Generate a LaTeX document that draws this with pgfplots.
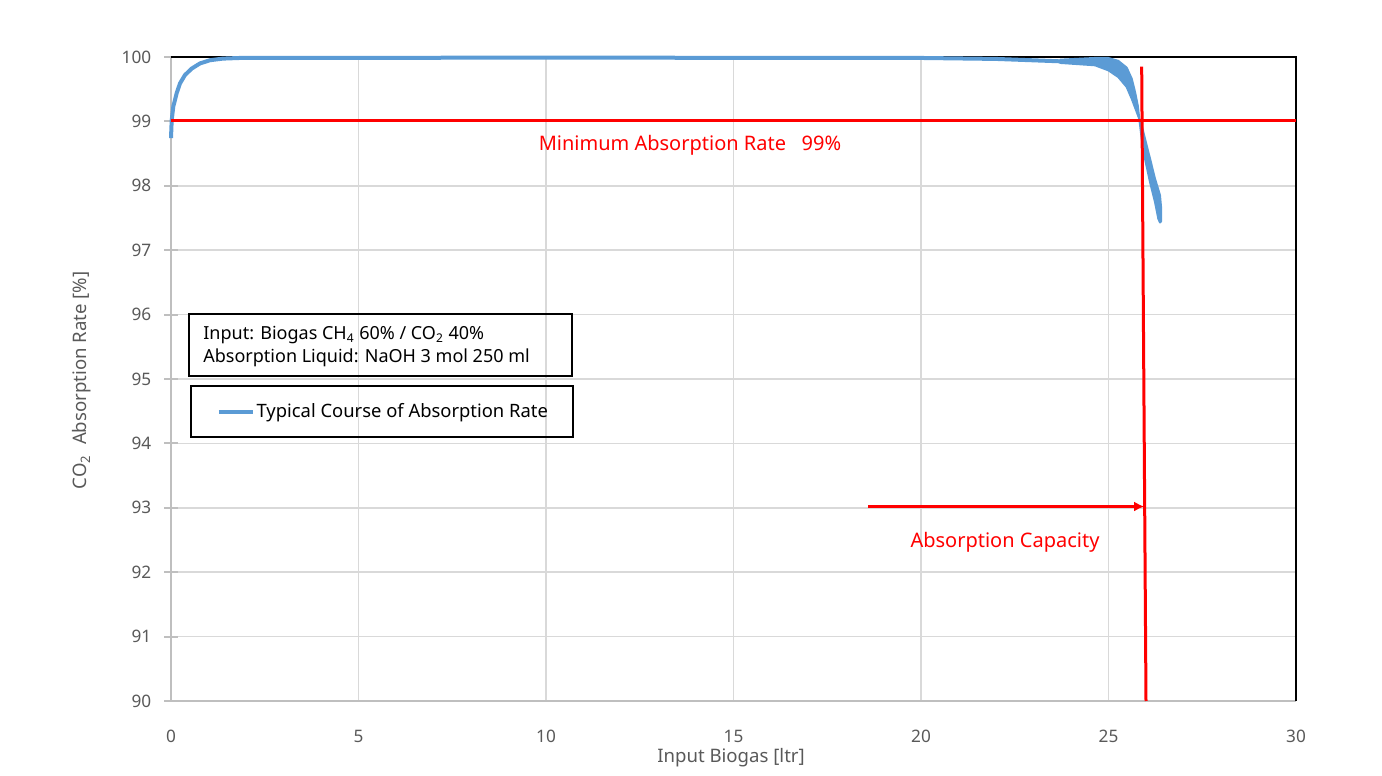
\documentclass[border=0pt]{standalone}
\usepackage{fontspec}
\setmainfont{Noto Sans}
\usepackage{pgfplots}
\pgfplotsset{compat=1.18}
\usetikzlibrary{arrows.meta}
\definecolor{excelblue}{RGB}{91,155,213}
\definecolor{tickgray}{RGB}{89,89,89}
\definecolor{gridgray}{RGB}{217,217,217}
\definecolor{axisgray}{RGB}{191,191,191}

\begin{document}
\begin{tikzpicture}
\path[use as bounding box] (-85.5pt,-37.5pt) rectangle (605.5pt,350.5pt);
\begin{axis}[
    at={(0pt,0pt)}, anchor=south west,
    scale only axis, width=562.5pt, height=322pt,
    xmin=0, xmax=30, ymin=90, ymax=100,
    xtick={0,5,...,30}, ytick={90,91,...,100},
    clip=false,
    grid=major,
    major grid style={gridgray, line width=0.75pt},
    axis x line*=bottom, axis y line*=left,
    axis line style={axisgray, line width=1pt, -},
    every outer x axis line/.append style={-},
    every outer y axis line/.append style={-},
    xtick style={draw=none},
    ytick style={axisgray, line width=1pt},
    tick align=center, major tick length=6.7pt,
    tick label style={font=\fontsize{8.6}{10}\selectfont, text=tickgray},
    /pgf/number format/assume math mode=true,
    yticklabel style={anchor=east, xshift=-3pt},
    xticklabel style={anchor=center, yshift=-14.5pt},
    label style={font=\fontsize{9.3}{11}\selectfont, text=tickgray},
    xlabel={Input Biogas [ltr]},
    xlabel style={at={(axis description cs:0.4978,-0.0886)}, anchor=center},
    ylabel={CO\textsubscript{2}\ \ Absorption Rate [\%]},
    ylabel style={at={(axis description cs:-0.0791,0.498)}, anchor=center, rotate=0},
    legend style={draw=none, fill=none, at={(axis description cs:0.0405,0.4492)}, anchor=west,
        inner xsep=0pt, font=\fontsize{9.2}{11}\selectfont, nodes={inner xsep=0.8pt}},
    legend image code/.code={\draw[#1] (0pt,0pt) -- (17pt,0pt);},
]
% frame top and right
\draw[black, line width=1pt] (rel axis cs:0,1) -- (rel axis cs:1,1) -- (rel axis cs:1,0);

% boxes
\draw[black, line width=1pt] (axis cs:0.488,96.005) rectangle (axis cs:10.685,95.05);
\draw[black, line width=1pt] (axis cs:0.533,94.896) rectangle (axis cs:10.728,94.104);
\node[anchor=base west, font=\fontsize{9}{11}\selectfont, inner sep=0pt] at (axis cs:0.853,95.61)
    {Input: Biogas CH\textsubscript{4} 60\% / CO\textsubscript{2} 40\%};
\node[anchor=base west, font=\fontsize{9}{11}\selectfont, inner sep=0pt] at (axis cs:0.853,95.25)
    {Absorption Liquid: NaOH 3 mol 250 ml};

% measured course
\addplot[excelblue, line width=2pt] coordinates {
    (0,98.74) (0.019,99.02) (0.061,99.23) (0.152,99.44) (0.24,99.59) (0.373,99.72)
    (0.552,99.82) (0.773,99.90) (1.04,99.95) (1.387,99.975) (1.84,99.985)
    (10,99.99) (20,99.985) (22,99.97) (23.707,99.933)
};
\addlegendentry{Typical Course of Absorption Rate}
\addplot[excelblue, fill=excelblue, line width=1pt, line join=round, forget plot] coordinates {
    (23.707,99.958) (24.640,99.985) (24.995,99.985) (25.261,99.940) (25.485,99.835)
    (25.619,99.663) (25.707,99.457) (25.779,99.250) (25.821,99.042) (25.885,98.731)
    (25.973,98.421) (26.107,98.059) (26.240,97.748) (26.328,97.489) (26.373,97.430)
    (26.405,97.450) (26.405,97.644) (26.373,97.853) (26.240,98.110) (26.107,98.421)
    (25.973,98.731) (25.885,98.939) (25.752,99.146) (25.619,99.352) (25.485,99.534)
    (25.261,99.689) (24.995,99.793) (24.640,99.871) (23.707,99.908) (23.707,99.958)
};

% red annotations
\draw[red, line width=1.5pt] (axis cs:0,99.02) -- (axis cs:30,99.02);
\draw[red, line width=1.5pt] (axis cs:25.885,99.85) -- (axis cs:26.0,90);
\draw[red, line width=1.5pt, -{Latex[length=5pt,width=5pt]}] (axis cs:18.59,93.02) -- (axis cs:25.95,93.02);
\node[red, font=\fontsize{10}{12}\selectfont] at (axis cs:13.84,98.63) {Minimum Absorption Rate\ \ \ 99\%};
\node[red, font=\fontsize{10}{12}\selectfont] at (axis cs:22.24,92.47) {Absorption Capacity};
\end{axis}
\end{tikzpicture}
\end{document}
